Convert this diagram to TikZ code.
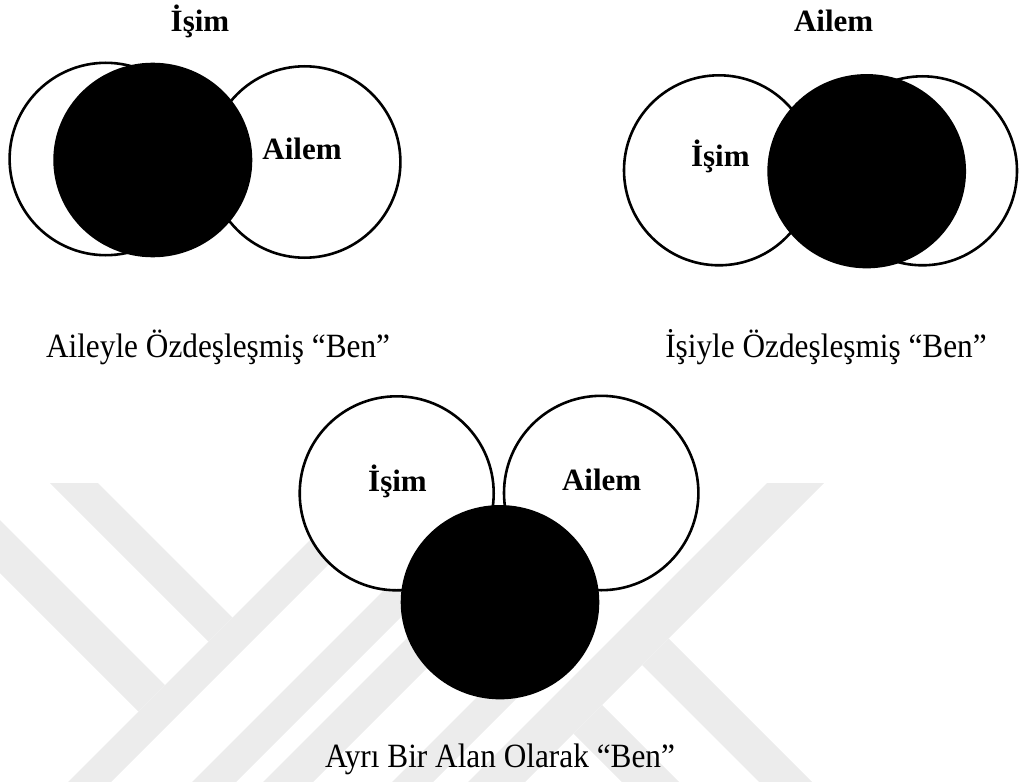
\documentclass[tikz,border=0pt]{standalone}
\usepackage{fontspec}
\setmainfont{Liberation Serif}
\newfontfamily\capfont[FakeStretch=0.92]{Liberation Serif}
\usetikzlibrary{shapes.geometric}
\definecolor{wm}{RGB}{236,236,236}
\begin{document}
\begin{tikzpicture}[x=1pt,y=-1pt,
  wcirc/.style={circle,draw=black,fill=white,line width=2.6pt,inner sep=0pt,minimum size=#1},
  bcirc/.style 2 args={ellipse,fill=black,draw=none,inner sep=0pt,minimum width=#1,minimum height=#2},
  lbl/.style={font=\fontsize{31}{37}\selectfont\bfseries,anchor=base,inner sep=0pt},
  captxt/.style={font=\capfont\fontsize{34}{40}\selectfont,anchor=base,inner sep=0pt},
  band/.style={fill=wm,draw=none}]
\useasboundingbox (0,0) rectangle (1024,781);
% faint watermark
\begin{scope}
\clip (0,0) rectangle (1024,781);
\fill[band] (-50,470) -- (165,685) -- (138.5,711.5) -- (-50,523) -- cycle;
\fill[band] (50,483) -- (98,483) -- (232.5,617.5) -- (208.5,641.5) -- cycle;
\fill[band] (50,800) -- (367,483) -- (410,483) -- (93,800) -- cycle;
\fill[band] (174,800) -- (414,560) -- (458,560) -- (218,800) -- cycle;
\fill[band] (245,800) -- (425,620) -- (475,620) -- (295,800) -- cycle;
\fill[band] (374,800) -- (534,640) -- (575,640) -- (415,800) -- cycle;
\fill[band] (450,800) -- (767,483) -- (824,483) -- (507,800) -- cycle;
\fill[band] (668.5,638.5) -- (830,800) -- (777,800) -- (642,665) -- cycle;
\fill[band] (602,705) -- (697,800) -- (640,800) -- (573.5,733.5) -- cycle;
\end{scope}
% top-left group
\node[wcirc=192.4pt] (tlL) at (105.8,159) {};
\node[wcirc=191.4pt] (tlR) at (304.7,162) {};
\node[bcirc={199pt}{194.6pt}] (tlB) at (152.8,160) {};
\node[lbl] (tlTop) at (200,31.7) {İşim};
\node[lbl] (tlAilem) at (302,159) {Ailem};
\node[captxt] (tlCap) at (218,357) {Aileyle Özdeşleşmiş “Ben”};
% top-right group
\node[wcirc=190pt] (trL) at (719,170.3) {};
\node[wcirc=189pt] (trR) at (922.5,170.8) {};
\node[bcirc={198.7pt}{194.3pt}] (trB) at (866.7,171.2) {};
\node[lbl] (trTop) at (833.7,31.7) {Ailem};
\node[lbl] (trIsim) at (720.3,166.7) {İşim};
\node[captxt] (trCap) at (826,357) {İşiyle Özdeşleşmiş “Ben”};
% bottom group
\node[wcirc=194pt] (bL) at (396.7,493.3) {};
\node[wcirc=194.4pt] (bR) at (601.2,493) {};
\node[bcirc={198.6pt}{194.3pt}] (bB) at (500,602.2) {};
\node[lbl] (bIsim) at (397.5,491.7) {İşim};
\node[lbl] (bAilem) at (601.7,490) {Ailem};
\node[captxt] (bCap) at (500,767) {Ayrı Bir Alan Olarak “Ben”};
\end{tikzpicture}
\end{document}
